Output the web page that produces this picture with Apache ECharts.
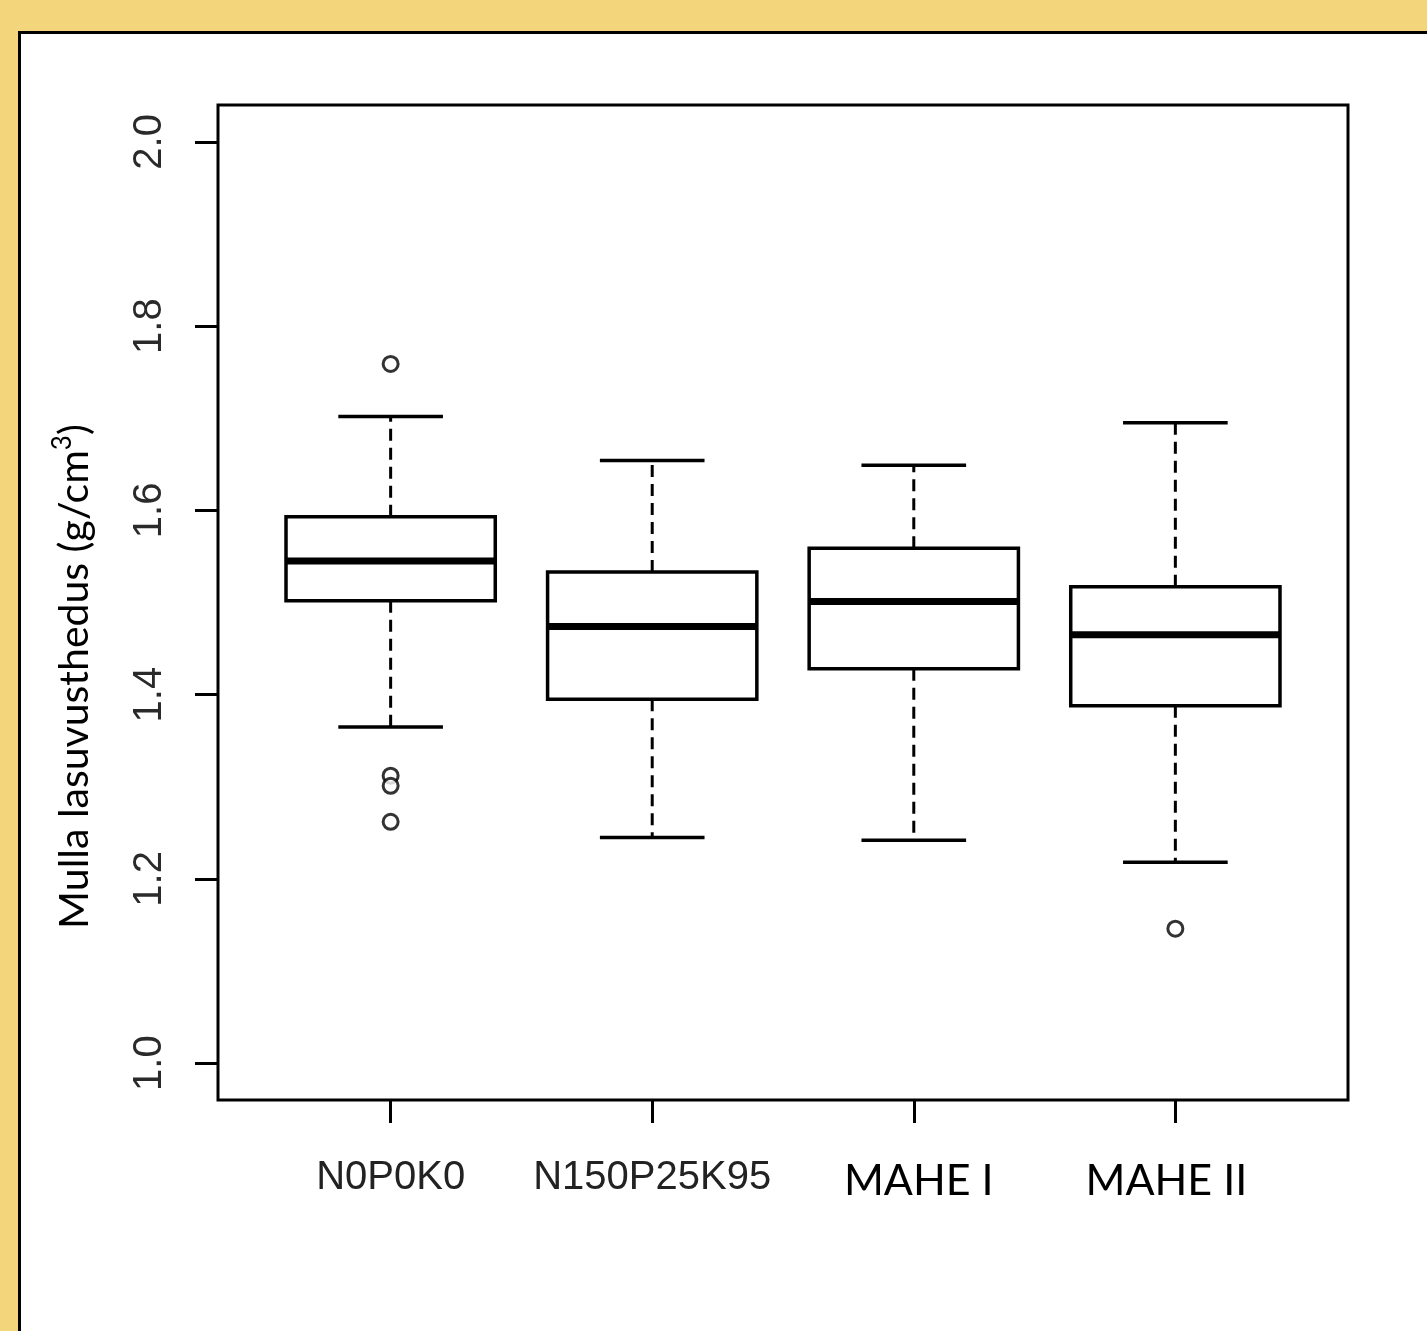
<!DOCTYPE html>
<html>
<head>
<meta charset="utf-8">
<script src="https://cdn.jsdelivr.net/npm/echarts@6/dist/echarts.min.js"></script>
<style>
  html, body { margin: 0; padding: 0; background: #F3D57B; }
  #panel { position: absolute; left: 18px; top: 31px; width: 1420px; height: 1310px;
           background: #ffffff; border-left: 3px solid #000; border-top: 3px solid #000; }
  #chart { position: absolute; left: 0; top: 0; width: 1427px; height: 1331px; }
</style>
</head>
<body>
<div id="panel"></div>
<div id="chart"></div>
<script>
// ---- data ----
var categories = ['N0P0K0', 'N150P25K95', 'MAHE I', 'MAHE II'];
// [lower whisker, Q1, median, Q3, upper whisker]
var lowerWhisker = [1.365, 1.245, 1.242, 1.218];
var q1Values     = [1.502, 1.395, 1.428, 1.388];
var medianValues = [1.545, 1.474, 1.501, 1.465];
var q3Values     = [1.593, 1.533, 1.559, 1.517];
var upperWhisker = [1.702, 1.654, 1.649, 1.695];
// outliers: [category index (1-based), value]
var outliers = [[1, 1.759], [1, 1.312], [1, 1.301], [1, 1.262], [4, 1.146]];
var yTicks = [1.0, 1.2, 1.4, 1.6, 1.8, 2.0];
var xTicks = [1, 2, 3, 4];

var boxData = categories.map(function (c, i) {
  return [i + 1, lowerWhisker[i], q1Values[i], medianValues[i], q3Values[i], upperWhisker[i]];
});

var BOX_HALF = 0.4, CAP_HALF = 0.2;

function renderBox(params, api) {
  var x = api.value(0);
  var lo = api.value(1), q1 = api.value(2), md = api.value(3), q3 = api.value(4), hi = api.value(5);
  var pL = api.coord([x - BOX_HALF, q3]);
  var pR = api.coord([x + BOX_HALF, q1]);
  var pC = api.coord([x, md]);
  var cL = api.coord([x - CAP_HALF, lo])[0];
  var cR = api.coord([x + CAP_HALF, lo])[0];
  var yLo = api.coord([x, lo])[1], yHi = api.coord([x, hi])[1];
  var yQ1 = pR[1], yQ3 = pL[1];
  var dash = { stroke: '#000', lineWidth: 3, lineDash: [12, 7] };
  var solid = { stroke: '#000', lineWidth: 3.5 };
  return {
    type: 'group',
    children: [
      { type: 'line', shape: { x1: pC[0], y1: yQ3, x2: pC[0], y2: yHi }, style: dash },
      { type: 'line', shape: { x1: pC[0], y1: yQ1, x2: pC[0], y2: yLo }, style: dash },
      { type: 'line', shape: { x1: cL, y1: yHi, x2: cR, y2: yHi }, style: solid },
      { type: 'line', shape: { x1: cL, y1: yLo, x2: cR, y2: yLo }, style: solid },
      { type: 'rect', shape: { x: pL[0], y: yQ3, width: pR[0] - pL[0], height: yQ1 - yQ3 },
        style: { fill: '#fff', stroke: '#000', lineWidth: 3.5 } },
      { type: 'line', shape: { x1: pL[0], y1: pC[1], x2: pR[0], y2: pC[1] },
        style: { stroke: '#000', lineWidth: 7 } }
    ]
  };
}

var chart = echarts.init(document.getElementById('chart'), null, { renderer: 'canvas' });
chart.setOption({
  backgroundColor: 'transparent',
  animation: false,
  grid: { left: 218, top: 105, right: 79, bottom: 231, show: true,
          borderColor: '#000', borderWidth: 3, backgroundColor: 'transparent' },
  xAxis: {
    type: 'value', min: 0.34, max: 4.66,
    axisLine: { show: false },
    splitLine: { show: false },
    axisTick: { show: true, inside: false, length: 23, customValues: xTicks,
                lineStyle: { color: '#000', width: 3 } },
    axisLabel: {
      customValues: xTicks, margin: 56,
      formatter: function (v) {
        var idx = Math.round(v) - 1;
        var name = categories[idx];
        var st = ['a', 'a', 'b', 'c'][idx];
        return '{' + st + '|' + name + '}';
      },
      rich: {
        a: { fontFamily: 'Liberation Sans, Arial, sans-serif', fontSize: 40, color: '#222', lineHeight: 44 },
        b: { fontFamily: 'Lato, sans-serif', fontSize: 43, color: '#000', lineHeight: 50, padding: [0, 0, 0, 10] },
        c: { fontFamily: 'Lato, sans-serif', fontSize: 43, color: '#000', lineHeight: 50, padding: [0, 18, 0, 0] }
      }
    }
  },
  yAxis: {
    type: 'value', min: 0.96, max: 2.04,
    axisLine: { show: false },
    splitLine: { show: false },
    axisTick: { show: true, inside: false, length: 23, customValues: yTicks,
                lineStyle: { color: '#000', width: 3 } },
    axisLabel: {
      customValues: yTicks, rotate: 90, margin: 48,
      fontFamily: 'Liberation Sans, Arial, sans-serif', fontSize: 40, color: '#2a2a2a',
      formatter: function (v) { return v.toFixed(1); }
    },
    name: '{m|Mulla lasuvusthedus (g/cm}{s|3}{m|)}',
    nameLocation: 'middle', nameRotate: 90, nameGap: 118,
    nameTextStyle: {
      padding: [0, 148, 0, 0],
      rich: {
        m: { fontFamily: 'Lato, sans-serif', fontSize: 41, color: '#000', lineHeight: 50 },
        s: { fontFamily: 'Lato, sans-serif', fontSize: 26, color: '#000', lineHeight: 50, verticalAlign: 'top' }
      }
    }
  },
  series: [
    {
      type: 'custom', renderItem: renderBox, data: boxData,
      encode: { x: 0, y: [1, 2, 3, 4, 5] }, z: 2
    },
    {
      type: 'scatter', data: outliers, symbol: 'circle', symbolSize: 15,
      itemStyle: { color: '#fff', borderColor: '#000', borderWidth: 3 }, z: 3
    }
  ]
});
</script>
</body>
</html>
